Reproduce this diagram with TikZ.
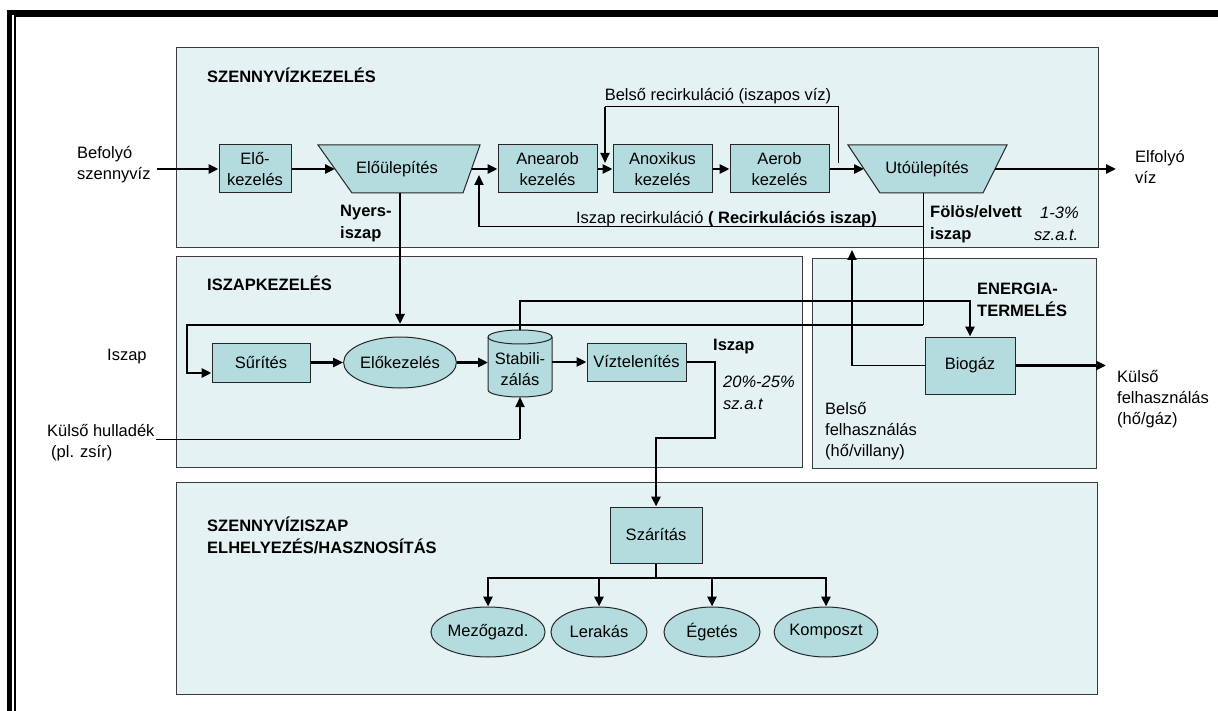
\documentclass[tikz,border=0pt]{standalone}
\usepackage{fontspec}
\setmainfont{Liberation Sans}
\usetikzlibrary{arrows.meta,shapes.geometric,calc}
\definecolor{secfill}{RGB}{229,242,244}
\definecolor{boxfill}{RGB}{180,220,223}
\definecolor{secline}{RGB}{60,60,60}
\begin{document}
\begin{tikzpicture}[x=1pt,y=-1pt,
  txt/.style={font=\fontsize{16.5}{21}\selectfont, inner sep=0pt, align=left},
  ttl/.style={txt, font=\fontsize{16.5}{22}\selectfont\bfseries, anchor=west},
  lbl/.style={txt, anchor=west},
  lblb/.style={lbl, font=\fontsize{16.5}{22}\selectfont\bfseries},
  lbli/.style={lbl, font=\fontsize{16.5}{22}\selectfont\itshape},
  sect/.style={draw=secline, line width=1pt, fill=secfill},
  pshape/.style={draw=black!85, line width=1pt, fill=boxfill},
  pbox/.style={pshape, txt, align=center, rectangle},
  poval/.style={pshape, txt, align=center, ellipse},
  flowa/.style={line width=2.6pt, -{Triangle[length=10pt,width=9pt]}},
  flown/.style={line width=2.6pt},
  thinl/.style={line width=1pt},
  meda/.style={line width=1.8pt, -{Triangle[length=10pt,width=9pt]}}
]
\useasboundingbox (0,0) rectangle (1218,711);
% outer frame
\draw[line width=4.6pt] (9.7,711) -- (9.7,12.3) -- (1218,12.3);
\draw[line width=2pt] (14.5,711) -- (14.5,16.5) -- (1218,16.5);
% sections
\path[sect] (176,48) rectangle (1098,248);
\path[sect] (176,257) rectangle (802,467);
\path[sect] (812,259) rectangle (1096,468);
\path[sect] (176,482) rectangle (1097,694);
% titles
\node[ttl] (t1) at (207,75) {SZENNYVÍZKEZELÉS};
\node[ttl] (t2) at (207,283) {ISZAPKEZELÉS};
\node[ttl] (t3) at (207,535) {SZENNYVÍZISZAP\\ELHELYEZÉS/HASZNOSÍTÁS};
\node[ttl] (t4) at (977,300) {ENERGIA-\\TERMELÉS};
% ---------- wastewater line
\node[lbl] (befolyo) at (77,165) {Befolyó\\szennyvíz};
\node[lbl] (elfolyo) at (1135,167) {Elfolyó\\víz};
\node[pbox, minimum width=72pt, minimum height=48pt] (elokez) at (255,169) {Elő-\\kezelés};
\path[pshape] (318,145) -- (480,145) -- (463,193) -- (352,193) -- cycle;
\node[txt] (elo) at (397,169) {Előülepítés};
\coordinate (eloL) at (335,169);
\coordinate (eloR) at (471.5,169);
\coordinate (eloB) at (400,193);
\node[pbox, minimum width=99pt, minimum height=48pt] (anaer) at (547.5,169) {Anearob\\kezelés};
\node[pbox, minimum width=99pt, minimum height=48pt] (anox) at (662.5,169) {Anoxikus\\kezelés};
\node[pbox, minimum width=99pt, minimum height=48pt] (aerob) at (779.5,169) {Aerob\\kezelés};
\path[pshape] (848,145) -- (1007,145) -- (983,193) -- (880,193) -- cycle;
\node[txt] (uto) at (927,169) {Utóülepítés};
\coordinate (utoL) at (864,169);
\coordinate (utoR) at (995,169);
\coordinate (utoB) at (923,193);
\draw[flowa] ([xshift=6pt]befolyo.east |- elokez.west) -- (elokez.west);
\draw[flowa] (elokez.east) -- (eloL);
\draw[flowa] (eloR) -- (anaer.west);
\draw[flowa] (anaer.east) -- (anox.west);
\draw[flowa] (anox.east) -- (aerob.west);
\draw[flowa] (aerob.east) -- (utoL);
\draw[flowa] (utoR) -- ([xshift=-19pt]elfolyo.west |- utoR);
% internal recirculation
\coordinate (brS) at (838,163);
\coordinate (brK) at (605,107);
\coordinate (brE) at (605,163);
\draw[thinl] (brS) |- (brK);
\draw[meda] (brK) -- (brE);
\node[txt] (brlbl) at (718,96) {Belső recirkuláció (iszapos víz)};
% excess sludge + sludge recirculation
\coordinate (folC) at (923,325);
\coordinate (fol1) at (923,227);
\draw[thinl] (utoB) -- (folC);
\coordinate (irK) at (479,227);
\coordinate (irE) at (479,175);
\draw[thinl] (fol1) -- (irK);
\draw[meda] (irK) -- (irE);
\node[txt, anchor=base east] (irlbl) at (877,224) {Iszap recirkuláció {\bfseries ( Recirkulációs iszap)}};
\node[lblb] (nyers) at (340,224) {Nyers-\\iszap};
\node[lblb] (folos) at (930,224) {Fölös/elvett\\iszap};
\node[lbli] (pct1) at (1034,224) {\hspace*{6pt}1-3\%\\sz.a.t.};
% ---------- sludge treatment
\node[lbl] (iszapl) at (107,357) {Iszap};
\node[pbox, minimum width=98pt, minimum height=39pt] (sur) at (261,362.5) {Sűrítés};
\node[poval, minimum width=106pt, minimum height=51pt] (elokez2) at (400,362.5) {Előkezelés};
\path[pshape] (488,337) -- (488,390) arc[start angle=180,end angle=360,x radius=32pt,y radius=7pt] -- (552,337) arc[start angle=0,end angle=180,x radius=32pt,y radius=7pt] -- cycle;
\draw[line width=1pt, draw=black!85] (488,337) arc[start angle=180,end angle=360,x radius=32pt,y radius=7pt];
\node[txt, align=center] (stab) at (520,369) {Stabili-\\zálás};
\coordinate (stabL) at (488,362.5);
\coordinate (stabR) at (552,362);
\coordinate (stabT) at (520,330);
\coordinate (stabB) at (520,397);
\node[pbox, minimum width=99pt, minimum height=38pt] (vizt) at (636.5,362) {Víztelenítés};
\node[pbox, minimum width=92pt, minimum height=56pt] (szar) at (656,535) {Szárítás};
\node[pbox, minimum width=90pt, minimum height=57pt] (biogaz) at (970,365.5) {Biogáz};
\coordinate (lpC) at (187,325);
\coordinate (nyE) at (400,324);
\coordinate (vzA) at (715,438);
\coordinate (vzC) at (656,438);
\coordinate (bgA) at (970,301);
\draw[flowa] (folC) -- (lpC) |- ([yshift=-10.5pt]sur.west);
\draw[flowa] (eloB) -- (nyE);
\draw[flowa] (sur.east) -- (elokez2.west);
\draw[flowa] (elokez2.east) -- (stabL);
\draw[flowa] (stabR) -- (vizt.west);
\draw[flowa] (vizt.east) -| (vzA) -- (vzC) -- (szar.north);
\draw[flowa] (stabT) |- (bgA) -- (biogaz.north);
\node[lblb] (iszap2) at (713,347) {Iszap};
\node[lbli] (pct2) at (723,393) {20\%-25\%\\sz.a.t};
% external waste
\node[lbl] (khl) at (47,443) {Külső hulladék\\\hspace*{4pt}(pl. zsír)};
\coordinate (khA) at (156,439);
\coordinate (khB) at (520,439);
\draw[thinl] (khA) -- (khB);
\draw[meda] (khB) -- (stabB);
% ---------- energy
\coordinate (bgL) at (852,365.5);
\coordinate (bgT) at (852,250);
\draw[thinl] (biogaz.west) -- (bgL);
\draw[meda] (bgL) -- (bgT);
\coordinate (kulsoT) at (1106,365.5);
\draw[flowa] (biogaz.east) -- (kulsoT);
\node[lbl] (kulso) at (1117,399) {Külső\\felhasználás\\(hő/gáz)};
\node[lbl] (belso) at (825,431) {Belső\\felhasználás\\(hő/villany)};
% ---------- disposal
\node[poval, minimum width=96pt, minimum height=50pt] (m1) at (488,632) {Mezőgazd.};
\node[poval, minimum width=96pt, minimum height=50pt] (m2) at (599,632) {Lerakás};
\node[poval, minimum width=96pt, minimum height=50pt] (m3) at (712,632) {Égetés};
\node[poval, minimum width=96pt, minimum height=50pt] (m4) at (826,632) {Komposzt};
\coordinate (brC) at (656,578);
\draw[flown] (szar.south) -- (brC);
\foreach \n in {m1,m2,m3,m4} \draw[flowa] (brC) -| (\n.north);
\end{tikzpicture}
\end{document}
